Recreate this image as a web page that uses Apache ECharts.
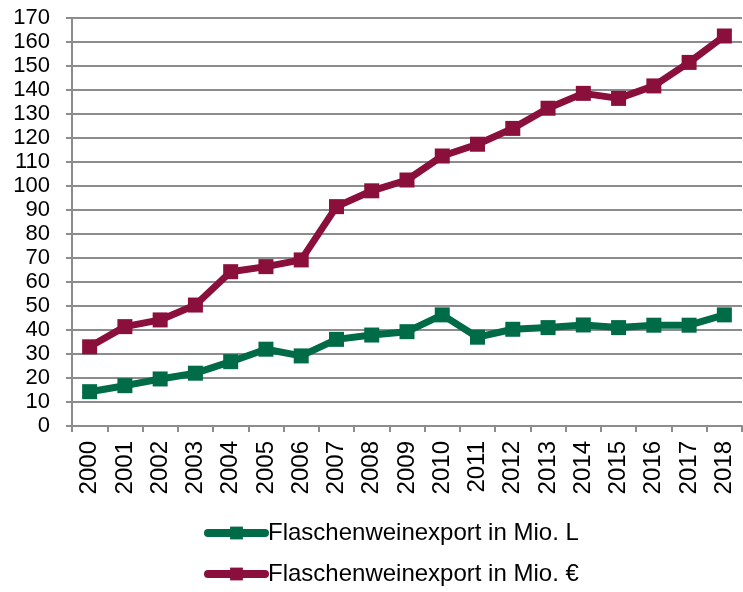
<!DOCTYPE html>
<html>
<head>
<meta charset="utf-8">
<script src="https://cdn.jsdelivr.net/npm/echarts@6/dist/echarts.min.js"></script>
<style>
  html, body { margin: 0; padding: 0; background: #fff; }
  #chart { width: 743px; height: 592px; }
</style>
</head>
<body>
<div id="chart"></div>
<script>
// Jahre und Werte
var years = ['2000', '2001', '2002', '2003', '2004', '2005', '2006', '2007', '2008', '2009',
  '2010', '2011', '2012', '2013', '2014', '2015', '2016', '2017', '2018'];
var liters = [14.3, 16.8, 19.6, 22, 26.8, 32, 29.2, 36.1, 37.9, 39.3,
  46.3, 37, 40.3, 41, 42.1, 41, 42, 42, 46.3];
var euros = [33, 41.4, 44.2, 50.4, 64.3, 66.4, 69.2, 91.4, 98, 102.5,
  112.5, 117.4, 124, 132.4, 138.6, 136.5, 141.7, 151.5, 162.5];
var seriesNames = ['Flaschenweinexport in Mio. L', 'Flaschenweinexport in Mio. €'];

var myChart = echarts.init(document.getElementById('chart'));

var axisGray = '#8c8c8c';
var fontFam = '"Liberation Sans", Arial, sans-serif';

myChart.setOption({
  animation: false,
  grid: { left: 72, right: 1, top: 18, bottom: 166 },
  legend: {
    orient: 'vertical',
    left: 204,
    top: 521,
    padding: 0,
    height: 70,
    itemGap: 17,
    itemWidth: 57,
    itemHeight: 16,
    lineStyle: { width: 8, cap: 'round' },
    textStyle: { fontFamily: fontFam, fontSize: 24, color: '#000', padding: [0, 0, 0, -2] },
    data: seriesNames
  },
  xAxis: {
    type: 'category',
    data: years,
    boundaryGap: true,
    axisLine: { lineStyle: { color: axisGray, width: 2 } },
    axisTick: { show: true, length: 6, lineStyle: { color: axisGray, width: 2 } },
    axisLabel: {
      rotate: 90,
      margin: 15,
      fontFamily: fontFam,
      fontSize: 24,
      color: '#000'
    }
  },
  yAxis: {
    type: 'value',
    min: 0,
    max: 170,
    interval: 10,
    axisLine: { show: true, lineStyle: { color: axisGray, width: 2 } },
    axisTick: { show: true, length: 6, lineStyle: { color: axisGray, width: 2 } },
    splitLine: { lineStyle: { color: axisGray, width: 2 } },
    axisLabel: {
      margin: 22,
      fontFamily: fontFam,
      fontSize: 22,
      color: '#000'
    }
  },
  series: [{
    name: seriesNames[0],
    type: 'line',
    data: liters,
    symbol: 'rect',
    symbolSize: 15,
    lineStyle: { width: 7, color: '#006b47' },
    itemStyle: { color: '#006b47' }
  }, {
    name: seriesNames[1],
    type: 'line',
    data: euros,
    symbol: 'rect',
    symbolSize: 15,
    lineStyle: { width: 7, color: '#8b0f3b' },
    itemStyle: { color: '#8b0f3b' }
  }]
});
</script>
</body>
</html>
